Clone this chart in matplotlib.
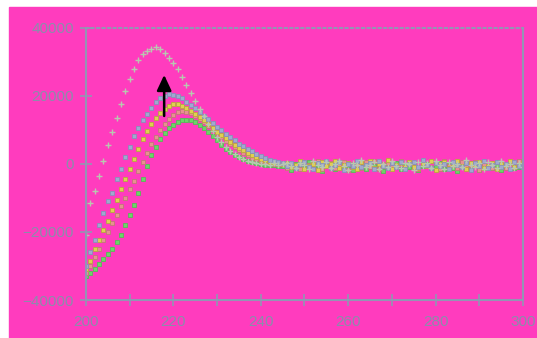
import numpy as np
import matplotlib
matplotlib.use("Agg")
import matplotlib.pyplot as plt
from matplotlib.patches import Rectangle

# CD signal (x1000), one point per nm from 200 to 300
cross_series = [-21, -11.5, -8, -3.5, 1, 5.5, 9.5, 13.5, 17.5, 21.5,
                25, 28, 30.5, 32.2, 33.2, 33.7, 34.3, 33.8, 32.5, 31.3,
                29.7, 27.8, 25.6, 23.2, 21, 18.6, 16.2, 14, 11.8, 9.8,
                8, 6.4, 5, 3.8, 2.8, 2, 1.4, 0.9, 0.5, 0.3,
                0.1, 0.0, -0.2, 0.3, -0.4, 0.1,
                0.2, -0.5, -1.1, 0.4, -0.3, -1.6, 0.8, -0.2, -0.9, 0.5,
                -1.3, -0.1, 0.9, -0.7, -1.8, 0.3, -0.4, 1.1, -1.0, -0.2,
                0.6, -1.4, 0.1, -0.8, 1.0, -0.5, -1.2, 0.4, -0.1, -1.7,
                0.7, -0.6, 0.2, -1.1, 0.9, -0.3, -1.5, 0.5, -0.7, 0.1,
                -1.0, 1.2, -0.4, -0.9, 0.3, -1.6, 0.6, -0.2, -1.3, 0.8,
                -0.5, 0.0, -1.1, 0.4, -0.8]

series_a = [-30, -26, -22.5, -18, -14.5, -11, -8.5, -4.5, -1.5, 2,
            5, 8.3, 10.5, 12.8, 14.6, 16.6, 18.1, 19.5, 20.1, 20.6,
            20.4, 19.9, 19.4, 18.3, 17.4, 16.4, 15.3, 14.2, 13.1, 12,
            11, 9.9, 8.8, 7.8, 6.9, 6, 5.2, 4.5, 3.7, 3,
            2.4, 1.7, 1.2, 0.8, 0.5, 0.3,
            -0.6, 0.3, -1.2, -0.1, 0.7, -0.9, -1.5, 0.2, -0.4, 1.0,
            -1.1, -0.3, 0.5, -1.7, 0.1, -0.6, 0.8, -1.0, -0.2, 0.4,
            -1.4, 0.9, -0.5, -1.2, 0.2, -0.8, 0.6, -1.6, -0.1, 0.5,
            -0.9, 1.1, -0.4, -1.3, 0.3, -0.7, 0.0, -1.5, 0.7, -0.3,
            -1.0, 0.4, -1.8, 0.2, -0.6, 0.9, -1.2, -0.2, 0.5, -0.9,
            0.1, -1.4, 0.6, -0.5, -1.0]

series_b = [-31, -28.5, -25, -22.5, -19.5, -16.8, -13.5, -10.5, -7.5, -4.5,
            -1.5, 1.5, 4.5, 7.2, 9.6, 11.8, 13.6, 15.1, 16.3, 17.1,
            17.5, 17.5, 17.1, 16.5, 15.7, 14.8, 13.8, 12.8, 11.7, 10.6,
            9.5, 8.5, 7.5, 6.5, 5.6, 4.8, 4, 3.3, 2.6, 2,
            1.5, 1.1, 0.7, 0.4, 0.2, 0.1,
            0.4, -1.0, -0.2, 0.8, -1.4, -0.5, 0.1, -1.9, 0.6, -0.7,
            -0.1, 1.0, -1.2, -0.4, 0.3, -0.9, -1.6, 0.5, -0.3, 0.9,
            -1.1, 0.0, -0.6, 1.1, -1.5, -0.2, 0.4, -1.0, 0.7, -0.8,
            -1.3, 0.2, -0.5, 0.8, -1.7, -0.1, 0.6, -1.1, -0.4, 1.0,
            -0.7, -1.4, 0.3, -0.2, 0.7, -1.2, -0.6, 0.4, -1.5, 0.1,
            -0.3, 0.9, -1.0, -0.5, 0.2]

series_c = [-32, -30, -27.5, -25, -22.5, -20, -17.5, -15, -12.5, -10,
            -7.5, -5, -2.2, 0.6, 3.3, 5.8, 8, 10, 11.8, 13.3,
            14.5, 15.3, 15.6, 15.4, 14.9, 14.2, 13.3, 12.3, 11.2, 10.1,
            9, 7.9, 6.8, 5.8, 4.9, 4, 3.2, 2.5, 1.9, 1.4,
            1, 0.6, 0.3, 0.1, 0.0, -0.1,
            -1.2, 0.1, -0.5, -1.6, 0.6, -0.3, -0.9, 0.9, -1.4, -0.2,
            0.3, -1.1, -0.6, 0.7, -1.8, 0.0, -0.4, -1.2, 0.5, -0.8,
            1.0, -1.5, -0.1, 0.4, -1.0, -0.5, 0.8, -1.3, 0.2, -0.7,
            -1.6, 0.6, -0.2, -1.0, 0.3, -1.4, 0.9, -0.6, -0.1, -1.2,
            0.5, -0.9, -0.3, 0.7, -1.7, 0.1, -0.5, -1.1, 0.6, -0.4,
            -1.3, 0.3, -0.8, 0.8, -0.2]

series_d = [-33, -32, -31, -29.5, -28, -26.5, -25, -23, -21, -18,
            -15, -12, -8.5, -4.5, -0.5, 2.5, 5, 7.2, 9, 10.5,
            11.5, 12.2, 12.8, 13, 12.9, 12.3, 11.5, 10.6, 9.5, 8.2,
            6.9, 5.6, 4.5, 3.5, 2.7, 2, 1.4, 0.9, 0.5, 0.2,
            0.0, -0.2, -0.3, -0.4, -0.5, -0.5,
            -0.9, -1.7, 0.0, -0.6, -1.3, 0.5, -1.0, -0.3, -2.0, 0.2,
            -0.7, -1.4, 0.4, -1.1, -0.2, -1.8, 0.1, -0.8, -1.5, 0.3,
            -0.5, -1.2, -2.1, -0.1, -0.9, 0.4, -1.6, -0.4, -1.0, 0.2,
            -1.9, -0.6, -0.1, -1.3, -0.8, 0.3, -1.5, -0.3, -1.1, -2.0,
            0.0, -0.7, -1.4, -0.2, -1.7, 0.1, -0.9, -1.2, -0.4, -1.8,
            -0.6, 0.2, -1.3, -1.0, -0.5]

wavelength = np.arange(200, 301)
xticks = [200, 220, 240, 260, 280, 300]
yticks = [-40000, -20000, 0, 20000, 40000]

fig = plt.figure(figsize=(5.37, 3.38), dpi=100, facecolor='white')
fig.patches.append(Rectangle((9 / 537, 0), 528 / 537, 331 / 338,
                             transform=fig.transFigure, color='#ff3cbe', zorder=-10))
ax = fig.add_axes([0.160, 0.1124, 0.814, 0.805])
ax.patch.set_visible(False)

sq = dict(linestyle='none', marker='s', ms=3.3, mew=0.6)
ax.plot(wavelength, np.array(series_d) * 1000, color='#6cd468', mec='#58b858', **sq)
ax.plot(wavelength, np.array(series_c) * 1000, color='#e89090', mec='#c07878', **sq)
ax.plot(wavelength, np.array(series_b) * 1000, color='#e0d050', mec='#b8a840', **sq)
ax.plot(wavelength, np.array(series_a) * 1000, color='#a0a8d0', mec='#8890b8', **sq)
ax.plot(wavelength, np.array(cross_series) * 1000, linestyle='none', marker='+',
        ms=4.2, mew=1.0, color='#b8c8b0')

ax.annotate('', xy=(217.9, 27000), xytext=(217.9, 13300),
            arrowprops=dict(arrowstyle='-|>,head_length=0.47,head_width=0.22',
                            color='black', lw=1.8, mutation_scale=20))

ax.set_xlim(200, 300)
ax.set_ylim(-40000, 40000)
ax.set_xticks(xticks)
ax.set_xticks(range(210, 300, 20), minor=True)
ax.set_yticks(yticks)

spine_col = '#9494b4'
for side in ['left', 'bottom', 'right']:
    ax.spines[side].set_color(spine_col)
    ax.spines[side].set_linewidth(1.5)
ax.spines['top'].set_color(spine_col)
ax.spines['top'].set_linestyle(':')
ax.spines['top'].set_linewidth(1.5)

ax.tick_params(axis='both', which='both', direction='inout', length=9,
               width=1.2, color=spine_col, labelcolor='#8c8cac',
               labelsize=11)
ax.tick_params(axis='x', pad=6)
ax.tick_params(axis='y', pad=4)
for lab in ax.get_xticklabels() + ax.get_yticklabels():
    lab.set_family('Liberation Sans')

fig.savefig('out.png', dpi=100, facecolor='white')
